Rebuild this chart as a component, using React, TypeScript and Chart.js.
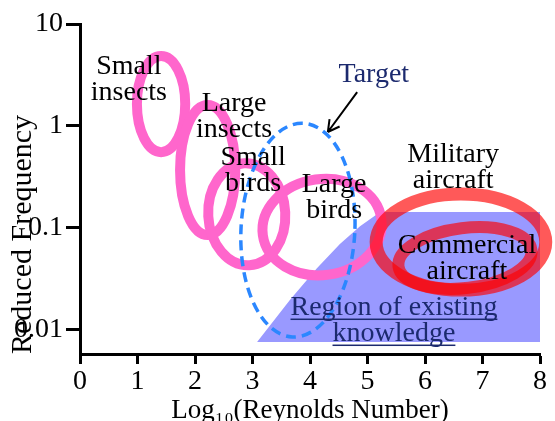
import { useEffect, useRef } from "react";
import { Chart, registerables } from "chart.js";

Chart.register(...registerables);

// Axis ticks
const xTickValues = [0, 1, 2, 3, 4, 5, 6, 7, 8];
const xTickLabels = ["0", "1", "2", "3", "4", "5", "6", "7", "8"];
const yTickValues = [0.01, 0.1, 1, 10];
const yTickLabels = ["0.01", "0.1", "1", "10"];

// Flight regimes: span in log10(Re) and in reduced frequency
const regimeLabels = [
  ["Small", "insects"],
  ["Large", "insects"],
  ["Small", "birds"],
  ["Large", "birds"],
  ["Military", "aircraft"],
  ["Commercial", "aircraft"],
];
const regimeReMin = [0.99, 1.74, 2.23, 3.17, 5.15, 5.53];
const regimeReMax = [1.83, 2.7, 3.57, 5.25, 8.1, 7.86];
const regimeFreqMin = [0.55, 0.0842, 0.0425, 0.034, 0.0242, 0.0254];
const regimeFreqMax = [4.84, 1.6, 0.428, 0.299, 0.213, 0.0986];
// where each regime name sits (log10 Re, reduced frequency)
const regimeLabelRe = [0.85, 2.68, 3.01, 4.42, 6.49, 6.73];
const regimeLabelFreq = [2.85, 1.23, 0.362, 0.197, 0.388, 0.0494];

// Target envelope
const targetRe = [2.8, 4.78];
const targetFreq = [0.00836, 1.06];
const targetLabel = "Target";
const targetLabelAt = [5.11, 3.15];
const targetArrowFrom = [4.82, 2.14];
const targetArrowTo = [4.31, 0.867];

// Region of existing knowledge (boundary)
const knownRe = [3.08, 3.65, 4.12, 4.52, 4.87, 5.22, 8, 8];
const knownFreq = [0.0075, 0.0193, 0.0398, 0.0687, 0.103, 0.142, 0.142, 0.0075];
const knownLabel = ["Region of existing", "knowledge"];
const knownLabelAt = [5.46, 0.01216];

const SERIF = "'Liberation Serif', 'Times New Roman', serif";
const NAVY = "#1c2a6e";
const PINK = "#ff66cc";
const RED = "rgba(255, 0, 0, 0.65)";
const regimeTilt = [0, 0, -3, -8, 0, -7];
const regimeStroke = [PINK, PINK, PINK, PINK, RED, RED];
const regimeWidth = [10, 10, 10, 10, 13, 12];

const annotations = {
  id: "regimeAnnotations",
  afterDatasetsDraw(chart: any) {
    const { ctx } = chart;
    const xs = chart.scales.x;
    const ys = chart.scales.y;
    const px = (v: number) => xs.getPixelForValue(v);
    const py = (v: number) => ys.getPixelForValue(v);

    const ellipse = (r0: number, r1: number, f0: number, f1: number, tilt: number) => {
      const x0 = px(r0), x1 = px(r1), y0 = py(f0), y1 = py(f1);
      ctx.beginPath();
      ctx.ellipse(
        (x0 + x1) / 2,
        (y0 + y1) / 2,
        Math.abs(x1 - x0) / 2,
        Math.abs(y1 - y0) / 2,
        (tilt * Math.PI) / 180,
        0,
        Math.PI * 2
      );
      ctx.stroke();
    };

    ctx.save();
    // animal regimes first, then the target, then aircraft
    for (const i of [0, 1, 2, 3]) {
      ctx.strokeStyle = regimeStroke[i];
      ctx.lineWidth = regimeWidth[i];
      ellipse(regimeReMin[i], regimeReMax[i], regimeFreqMin[i], regimeFreqMax[i], regimeTilt[i]);
    }

    ctx.setLineDash([10, 6]);
    ctx.strokeStyle = "#2b87ff";
    ctx.lineWidth = 3.5;
    ellipse(targetRe[0], targetRe[1], targetFreq[0], targetFreq[1], 3);
    ctx.setLineDash([]);

    for (const i of [4, 5]) {
      ctx.strokeStyle = regimeStroke[i];
      ctx.lineWidth = regimeWidth[i];
      ellipse(regimeReMin[i], regimeReMax[i], regimeFreqMin[i], regimeFreqMax[i], regimeTilt[i]);
    }

    // arrow pointing at the target envelope
    const ax0 = px(targetArrowFrom[0]), ay0 = py(targetArrowFrom[1]);
    const ax1 = px(targetArrowTo[0]), ay1 = py(targetArrowTo[1]);
    const ang = Math.atan2(ay1 - ay0, ax1 - ax0);
    ctx.strokeStyle = "#000";
    ctx.lineWidth = 2;
    ctx.beginPath();
    ctx.moveTo(ax0, ay0);
    ctx.lineTo(ax1, ay1);
    for (const s of [-1, 1]) {
      ctx.moveTo(ax1, ay1);
      ctx.lineTo(ax1 - 13 * Math.cos(ang + s * 0.5), ay1 - 13 * Math.sin(ang + s * 0.5));
    }
    ctx.stroke();

    // text
    ctx.font = `28px ${SERIF}`;
    ctx.textAlign = "center";
    ctx.textBaseline = "middle";
    const gap = 26;
    const block = (lines: string[], cx: number, cy: number, color: string, underline: boolean) => {
      ctx.fillStyle = color;
      const top = cy - ((lines.length - 1) * gap) / 2;
      lines.forEach((t, k) => {
        const ly = top + k * gap;
        ctx.fillText(t, cx, ly);
        if (underline) {
          const w = ctx.measureText(t).width;
          ctx.fillRect(cx - w / 2, ly + 11, w, 1.5);
        }
      });
    };
    regimeLabels.forEach((lines, i) =>
      block(lines, px(regimeLabelRe[i]), py(regimeLabelFreq[i]), "#000", false)
    );
    block([targetLabel], px(targetLabelAt[0]), py(targetLabelAt[1]), NAVY, false);
    block(knownLabel, px(knownLabelAt[0]), py(knownLabelAt[1]), NAVY, true);
    ctx.restore();
  },
};

export default function App() {
  const ref = useRef<HTMLCanvasElement>(null);

  useEffect(() => {
    const chart = new Chart(ref.current as HTMLCanvasElement, {
      type: "line",
      data: {
        datasets: [
          {
            data: knownRe.map((r, i) => ({ x: r, y: knownFreq[i] })),
            backgroundColor: "#9999ff",
            borderWidth: 0,
            pointRadius: 0,
            fill: "shape",
            tension: 0,
          },
        ],
      },
      options: {
        animation: false,
        responsive: false,
        events: [],
        layout: { padding: { left: 0, top: 24, right: 15, bottom: 0 } },
        plugins: { legend: { display: false }, tooltip: { enabled: false } },
        scales: {
          x: {
            type: "linear",
            min: 0,
            max: 8,
            afterFit: (s: any) => {
              s.height = 67;
            },
            afterBuildTicks: (s: any) => {
              s.ticks = xTickValues.map((v) => ({ value: v }));
            },
            ticks: {
              callback: (_v: any, i: number) => xTickLabels[i],
              font: { family: SERIF, size: 28, lineHeight: 1 },
              color: "#000",
              padding: 4,
              maxRotation: 0,
              autoSkip: false,
            },
            grid: {
              display: true,
              drawOnChartArea: false,
              drawTicks: true,
              tickLength: 10,
              tickWidth: 3,
              tickColor: "#000",
            },
            border: { display: true, color: "#000", width: 3 },
            title: {
              display: true,
              text: "Log\u2081\u2080(Reynolds Number)",
              font: { family: SERIF, size: 27, lineHeight: 0.76 },
              color: "#000",
              padding: 0,
            },
          },
          y: {
            type: "logarithmic",
            min: 0.0057,
            max: 10,
            afterFit: (s: any) => {
              s.width = 80;
            },
            afterBuildTicks: (s: any) => {
              s.ticks = yTickValues.map((v) => ({ value: v }));
            },
            ticks: {
              callback: (_v: any, i: number) => yTickLabels[i],
              font: { family: SERIF, size: 28, lineHeight: 1 },
              color: "#000",
              padding: 3,
              autoSkip: false,
            },
            grid: {
              display: true,
              drawOnChartArea: false,
              drawTicks: true,
              tickLength: 14,
              tickWidth: 3,
              tickColor: "#000",
            },
            border: { display: true, color: "#000", width: 3 },
            title: {
              display: true,
              text: "Reduced Frequency",
              align: "start",
              font: { family: SERIF, size: 30, lineHeight: 1 },
              color: "#000",
              padding: { top: 8, bottom: 0 },
            },
          },
        },
      },
      plugins: [annotations],
    } as any);
    return () => chart.destroy();
  }, []);

  return (
    <div style={{ position: "fixed", left: 0, top: 0, width: 555, height: 421, background: "#fff" }}>
      <canvas ref={ref} width={555} height={421} style={{ display: "block", width: 555, height: 421 }} />
    </div>
  );
}
